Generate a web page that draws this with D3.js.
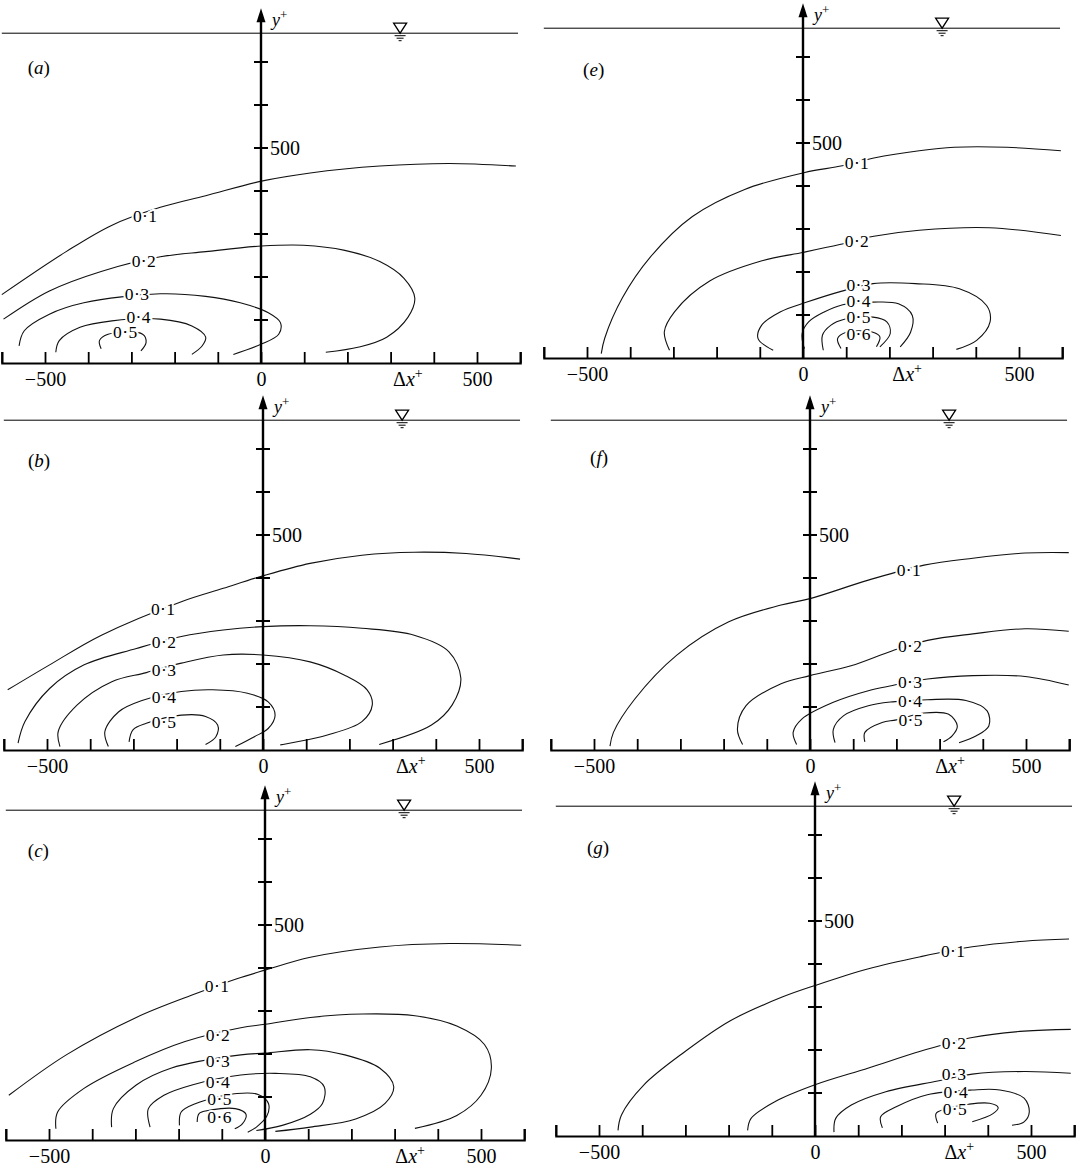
<!DOCTYPE html>
<html>
<head>
<meta charset="utf-8">
<script src="https://cdn.jsdelivr.net/npm/d3@7"></script>
<style>
body { margin: 0; background: #fff; }
svg { display: block; }
text { font-family: "Liberation Serif", "DejaVu Serif", serif; fill: #000; }
</style>
</head>
<body>
<svg width="1084" height="1171"></svg>
<script>
// contour points are [dx+, y+], lab = centre of the level label
var contA = [
    {v: '0·1', lab: [-268, 342], pts: [[-600,159],[-451,259],[-346,320],[-233,362],[-128,389],[1,423],[114,442],[275,458],[436,464],[590,458]]},
    {v: '0·2', lab: [-271, 236], pts: [[-596,102],[-491,167],[-370,213],[-233,247],[-128,259],[1,272],[98,274],[194,262],[275,236],[331,197],[356,151],[340,106],[291,60],[227,37],[150,25]]},
    {v: '0·3', lab: [-287, 161], pts: [[-560,40],[-548,75],[-491,113],[-410,140],[-233,161],[-128,155],[-48,140],[17,117],[45,94],[41,67],[1,44],[-64,20]]},
    {v: '0·4', lab: [-283, 107], pts: [[-475,25],[-467,52],[-419,83],[-345,98],[-233,102],[-160,86],[-128,60],[-136,40],[-160,20]]},
    {v: '0·5', lab: [-314, 71], pts: [[-370,33],[-374,52],[-354,67],[-274,67],[-266,48],[-278,28]]}
];
var contB = [
    {v: '0·1', lab: [-231, 328], pts: [[-591,140],[-494,198],[-374,267],[-189,345],[-92,376],[0,405],[109,434],[229,453],[350,460],[470,457],[595,444]]},
    {v: '0·2', lab: [-229, 250], pts: [[-567,16],[-551,66],[-494,143],[-414,198],[-293,236],[-189,264],[-92,279],[0,287],[109,289],[229,283],[350,267],[430,229],[458,167],[438,105],[390,58],[269,13]]},
    {v: '0·3', lab: [-229, 186], pts: [[-470,8],[-474,43],[-430,105],[-350,159],[-270,180],[-189,202],[-92,221],[0,221],[109,205],[189,174],[241,140],[253,105],[229,66],[149,35],[40,12]]},
    {v: '0·4', lab: [-229, 122], pts: [[-358,8],[-366,43],[-334,89],[-280,115],[-189,136],[-117,140],[-36,132],[12,112],[28,81],[12,50],[-20,31],[-64,8]]},
    {v: '0·5', lab: [-229, 66], pts: [[-310,19],[-301,47],[-270,62],[-189,81],[-133,78],[-105,58],[-109,31],[-133,13]]}
];
var contC = [
    {v: '0·1', lab: [-111, 358], pts: [[-593,104],[-460,198],[-298,285],[-161,340],[-65,375],[0,395],[105,425],[266,449],[427,457],[593,453]]},
    {v: '0·2', lab: [-109, 245], pts: [[-484,26],[-480,65],[-419,120],[-298,183],[-185,229],[-56,261],[0,269],[105,285],[226,293],[347,289],[444,265],[508,222],[524,167],[500,104],[444,57],[347,27]]},
    {v: '0·3', lab: [-109, 184], pts: [[-355,30],[-351,73],[-298,128],[-218,167],[-56,198],[0,202],[105,210],[185,198],[266,167],[298,124],[278,85],[210,49],[105,30],[24,20]]},
    {v: '0·4', lab: [-109, 134], pts: [[-266,30],[-270,73],[-234,104],[-169,128],[-56,151],[24,155],[105,147],[137,124],[133,85],[105,60],[40,34],[-20,22]]},
    {v: '0·5', lab: [-105, 95], pts: [[-198,34],[-194,65],[-160,85],[-65,108],[-16,106],[8,85],[4,55],[-20,30],[-40,18]]},
    {v: '0·6', lab: [-105, 53], pts: [[-157,42],[-153,61],[-135,68],[-69,73],[-44,60],[-52,38],[-70,26]]}
];
var contE = [
    {v: '0·1', lab: [125, 453], pts: [[-467,10],[-459,46],[-418,140],[-354,234],[-256,329],[-135,392],[2,431],[91,447],[164,465],[269,482],[350,490],[472,490],[597,482]]},
    {v: '0·2', lab: [125, 272], pts: [[-309,18],[-321,61],[-297,108],[-216,179],[-95,226],[2,246],[85,264],[164,283],[269,297],[431,303],[597,285]]},
    {v: '0·3', lab: [129, 170], pts: [[-69,18],[-104,45],[-96,76],[-53,107],[9,130],[88,155],[162,173],[260,173],[362,161],[425,122],[433,84],[402,41],[355,20]]},
    {v: '0·4', lab: [129, 133], pts: [[3,22],[-2,57],[13,84],[49,107],[92,124],[162,130],[221,126],[253,99],[249,60],[225,26]]},
    {v: '0·5', lab: [129, 95], pts: [[47,18],[45,53],[64,76],[96,90],[162,95],[194,84],[202,57],[178,26]]},
    {v: '0·6', lab: [129, 55], pts: [[88,22],[80,45],[100,60],[162,60],[178,49],[170,26]]}
];
var contF = [
    {v: '0·1', lab: [229, 419], pts: [[-463,9],[-455,41],[-406,118],[-309,220],[-188,298],[-67,337],[0,352],[135,395],[264,430],[377,446],[498,458],[599,459]]},
    {v: '0·2', lab: [232, 242], pts: [[-156,13],[-168,48],[-148,103],[-67,154],[0,173],[95,196],[191,231],[272,255],[377,270],[498,282],[599,276]]},
    {v: '0·3', lab: [232, 157], pts: [[-31,13],[-39,41],[-19,72],[54,111],[135,138],[191,150],[272,165],[377,173],[498,171],[599,151]]},
    {v: '0·4', lab: [232, 113], pts: [[58,17],[54,48],[78,80],[135,103],[191,112],[272,117],[361,115],[410,91],[414,56],[385,33],[345,17]]},
    {v: '0·5', lab: [233, 70], pts: [[127,19],[127,41],[167,64],[200,70],[264,86],[321,83],[341,56],[329,33],[309,19]]}
];
var contG = [
    {v: '0·1', lab: [320, 431], pts: [[-456,13],[-448,49],[-396,119],[-300,197],[-196,268],[-76,323],[0,350],[124,389],[244,417],[364,440],[484,453],[588,458]]},
    {v: '0·2', lab: [322, 217], pts: [[-156,13],[-148,41],[-92,80],[0,119],[124,158],[244,197],[364,229],[484,244],[592,248]]},
    {v: '0·3', lab: [322, 144], pts: [[44,9],[48,41],[84,72],[164,103],[284,128],[364,144],[484,150],[592,146]]},
    {v: '0·4', lab: [326, 103], pts: [[156,19],[152,45],[188,68],[260,96],[364,107],[428,107],[484,88],[496,56],[484,33],[456,25]]},
    {v: '0·5', lab: [324, 63], pts: [[284,30],[280,52],[300,62],[356,74],[404,76],[424,66],[412,52],[364,33]]}
];

var xTickVals = [-600, -500, -400, -300, -200, -100, 0, 100, 200, 300, 400, 500, 600];
var xTickText = {'-500': '\u2212500', '0': '0', '500': '500'};
var yTickVals = [100, 200, 300, 400, 500, 600, 700];
var surfaceY = 767, arrowTop = 825, waveX = 322;

// page layout: pixel position of x+=0 and of the bottom axis
var panels = [
    {id: 'a', cont: contA, x0: 261, base: 363, dxLab: 340, labX: -540, labY: 672},
    {id: 'b', cont: contB, x0: 263, base: 750, dxLab: 342, labX: -544, labY: 658},
    {id: 'c', cont: contC, x0: 265, base: 1140, dxLab: 336, labX: -549, labY: 658},
    {id: 'e', cont: contE, x0: 803, base: 358, dxLab: 241, labX: -509, labY: 656},
    {id: 'f', cont: contF, x0: 810, base: 750, dxLab: 324, labX: -509, labY: 665},
    {id: 'g', cont: contG, x0: 815, base: 1136, dxLab: 334, labX: -528, labY: 656}
];

var kx = 0.432, ky = 0.430;
var svg = d3.select('svg');

panels.forEach(function (p) {
    var x = d3.scaleLinear().domain([-600, 600]).range([p.x0 - 600 * kx, p.x0 + 600 * kx]);
    var y = d3.scaleLinear().domain([0, 700]).range([p.base, p.base - 700 * ky]);
    var g = svg.append('g').attr('class', 'panel-' + p.id);
    var line = d3.line()
        .x(function (d) { return x(d[0]); })
        .y(function (d) { return y(d[1]); })
        .curve(d3.curveCatmullRom.alpha(0.5));

    // free surface
    var ys = y(surfaceY), xw = x(waveX);
    g.append('line')
        .attr('x1', x(-600)).attr('x2', x(595))
        .attr('y1', ys).attr('y2', ys)
        .attr('stroke', '#000').attr('stroke-width', 1);
    g.append('path')
        .attr('d', 'M' + (xw - 6.5) + ',' + (ys - 10) + 'H' + (xw + 6.5) + 'L' + xw + ',' + ys + 'Z')
        .attr('fill', 'none').attr('stroke', '#000').attr('stroke-width', 1.3);
    [[2.5, 5.5], [5, 3.5], [7.5, 1.5]].forEach(function (s) {
        g.append('line')
            .attr('x1', xw - s[1]).attr('x2', xw + s[1])
            .attr('y1', ys + s[0]).attr('y2', ys + s[0])
            .attr('stroke', '#000').attr('stroke-width', 1);
    });

    // contours
    g.selectAll('path.contour')
        .data(p.cont)
        .enter()
        .append('path')
            .attr('class', 'contour')
            .attr('d', function (d) { return line(d.pts); })
            .attr('fill', 'none')
            .attr('stroke', '#111')
            .attr('stroke-width', 1.1);

    // vertical axis
    var xa = x(0);
    g.append('line')
        .attr('x1', xa).attr('x2', xa)
        .attr('y1', y(0)).attr('y2', y(arrowTop) + 10)
        .attr('stroke', '#000').attr('stroke-width', 2.4);
    g.append('path')
        .attr('d', 'M' + xa + ',' + y(arrowTop) + 'L' + (xa - 4.5) + ',' + (y(arrowTop) + 14) + 'L' + (xa + 4.5) + ',' + (y(arrowTop) + 14) + 'Z')
        .attr('fill', '#000');
    g.selectAll('line.ytick')
        .data(yTickVals)
        .enter()
        .append('line')
            .attr('class', 'ytick')
            .attr('x1', xa - 7).attr('x2', xa + 7)
            .attr('y1', function (d) { return y(d); })
            .attr('y2', function (d) { return y(d); })
            .attr('stroke', '#000').attr('stroke-width', 2);
    g.append('text')
        .attr('x', xa + 9).attr('y', y(500)).attr('dy', '0.35em')
        .attr('font-size', 20)
        .text('500');
    var yl = g.append('text')
        .attr('x', xa + 11).attr('y', y(arrowTop) + 18)
        .attr('font-size', 18);
    yl.append('tspan').attr('font-style', 'italic').text('y');
    yl.append('tspan').attr('font-size', 13).attr('dy', -7).text('+');

    // contour labels, white halo cuts the line
    g.selectAll('text.clab')
        .data(p.cont)
        .enter()
        .append('text')
            .attr('class', 'clab')
            .attr('x', function (d) { return x(d.lab[0]); })
            .attr('y', function (d) { return y(d.lab[1]); })
            .attr('dy', '0.34em')
            .attr('text-anchor', 'middle')
            .attr('font-size', 17.5)
            .attr('letter-spacing', 0.4)
            .attr('stroke', '#fff')
            .attr('stroke-width', 4)
            .attr('paint-order', 'stroke')
            .text(function (d) { return d.v; });

    // bottom axis
    var axis = d3.axisBottom(x)
        .tickValues(xTickVals)
        .tickSize(-11)
        .tickSizeOuter(-11)
        .tickPadding(9)
        .tickFormat(function (d) { return xTickText[d] || ''; });
    var ag = g.append('g')
        .attr('transform', 'translate(0,' + p.base + ')')
        .call(axis);
    ag.attr('font-family', null).attr('font-size', 20);
    ag.select('.domain').attr('stroke', '#000').attr('stroke-width', 2.2);
    ag.selectAll('.tick line').attr('stroke', '#000').attr('stroke-width', 1.8);
    ag.selectAll('.tick text').attr('fill', '#000');

    var dl = g.append('text')
        .attr('x', x(p.dxLab)).attr('y', p.base + 23)
        .attr('text-anchor', 'middle')
        .attr('font-size', 20);
    dl.append('tspan').text('\u0394');
    dl.append('tspan').attr('font-style', 'italic').text('x');
    dl.append('tspan').attr('font-size', 14).attr('dy', -8).text('+');

    // panel letter
    var pl = g.append('text')
        .attr('x', x(p.labX)).attr('y', y(p.labY))
        .attr('font-size', 19);
    pl.append('tspan').text('(');
    pl.append('tspan').attr('font-style', 'italic').text(p.id);
    pl.append('tspan').text(')');
});
</script>
</body>
</html>
